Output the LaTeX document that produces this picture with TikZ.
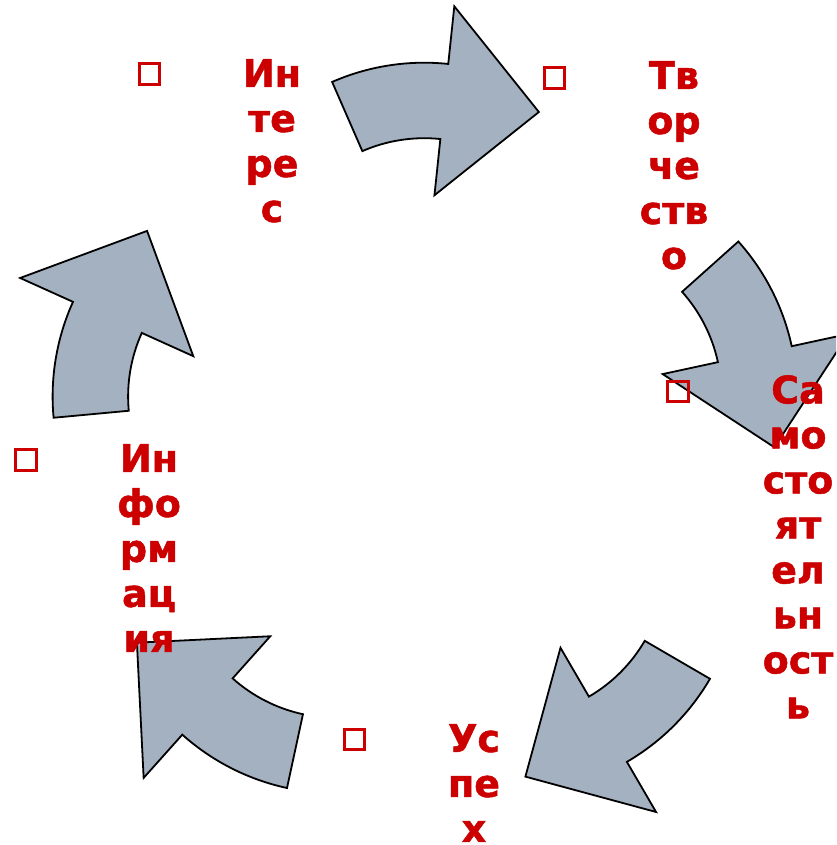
\documentclass[tikz,border=0pt]{standalone}
\usepackage{fontspec}
\setmainfont{DejaVu Sans}
\newfontfamily\lblfont{DejaVu Sans}[BoldFeatures={FakeBold=1.3}]
\definecolor{arrfill}{RGB}{163,177,192}
\definecolor{lblred}{RGB}{204,0,0}
% curved arrow: centre (#1,#2), tail angle #3 (image angles, clockwise)
\newcommand\cycarrow[4]{%
  \begin{scope}[shift={(#1,#2)}]
    \draw[arrowshape] (#3:230) arc[start angle=#3, end angle={#3+29.6}, radius=230]
      -- ({#3+29.6}:288) -- ({#3+56}:214) -- ({#3+29.6}:98)
      -- ({#3+29.6}:154.5) arc[start angle={#3+29.6}, end angle=#3, radius=154.5]
      -- cycle;
    \coordinate (#4) at (0,0);
  \end{scope}}
\begin{document}
\begin{tikzpicture}[x=1pt,y=-1pt,
  arrowshape/.style={fill=arrfill, draw=black, line width=1.8pt, line join=miter},
  lbl/.style={text=lblred, font=\lblfont\bfseries\fontsize{38}{45}\selectfont, align=center, anchor=north, inner sep=0pt},
  sq/.style={draw=lblred, line width=2.7pt, minimum size=20.5pt, inner sep=0pt, rectangle}]
\useasboundingbox (0,0) rectangle (836,845);
\clip (0,0) rectangle (836,845);
\fill[white] (0,0) rectangle (836,845);

\cycarrow{424.2}{292.7}{-113.6}{c1}
\cycarrow{566.9}{394.8}{-41.8}{c2}
\cycarrow{511.2}{563.1}{30.2}{c3}
\cycarrow{335.6}{563.2}{102.2}{c4}
\cycarrow{282.6}{396.5}{174.7}{c5}

\node[sq] (s1) at (149.5,74) {};
\node[sq] (s2) at (554.5,78) {};
\node[sq] (s3) at (678,391.5) {};
\node[sq] (s4) at (26,460) {};
\node[sq] (s5) at (354.5,739.5) {};

\node[lbl] (t1) at (272,59) {Ин\\те\\ре\\с};
\node[lbl] (t2) at (674,61) {Тв\\ор\\че\\ств\\о};
\node[lbl] (t3) at (798,375) {Са\\мо\\сто\\ят\\ел\\ьн\\ост\\ь};
\node[lbl] (t4) at (149,444) {Ин\\фо\\рм\\ац\\ия};
\node[lbl] (t5) at (474,724) {Ус\\пе\\х};
\end{tikzpicture}
\end{document}
